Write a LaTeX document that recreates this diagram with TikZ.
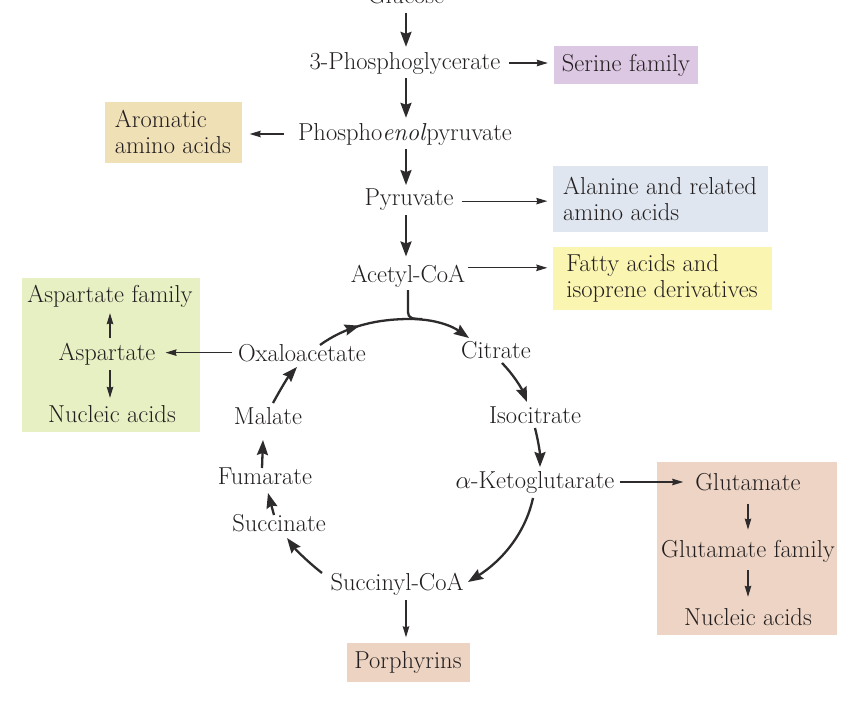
\documentclass[tikz,border=0pt]{standalone}
\usetikzlibrary{arrows.meta,decorations.markings,calc}
\definecolor{ink}{HTML}{231F20}
\definecolor{ink2}{HTML}{2E2B2C}
\definecolor{serc}{HTML}{DCC8E2}
\definecolor{aroc}{HTML}{EFE0B6}
\definecolor{alac}{HTML}{DFE6EF}
\definecolor{fatc}{HTML}{FBF5B2}
\definecolor{aspc}{HTML}{E7F0C3}
\definecolor{gluc}{HTML}{EDD4C4}
\definecolor{porc}{HTML}{EDD3C1}
\newcommand{\fs}{\fontsize{24.5}{26}\selectfont}
\tikzset{
  txt/.style={inner sep=1pt, font=\fs, text=ink, anchor=base},
  colbox/.style={inner sep=0pt, font=\fs, text=ink, align=left},
  thk/.style={line width=2.3pt, draw=ink2, -{Stealth[length=15pt,width=11pt,inset=2pt]}},
  thkplain/.style={line width=2.3pt, draw=ink2},
  thn/.style={line width=1.1pt, draw=ink2, -{Stealth[length=11pt,width=6.5pt,inset=1pt]}},
  midarrow/.style={postaction={decorate}, decoration={markings,
     mark=at position #1 with {\arrow{Stealth[length=15pt,width=11pt,inset=2pt]}}}}
}
\begin{document}
\begin{tikzpicture}[x=1pt,y=-1pt]
\useasboundingbox (0,0) rectangle (847,707);
\fill[white] (0,0) rectangle (847,707);

% coloured boxes
\node[colbox, fill=serc, minimum width=144pt, minimum height=38pt] (ser) at (626,65) {Serine family};
\node[colbox, fill=aroc, minimum width=137pt, minimum height=61pt] (aro) at (173,132) {Aromatic\\amino acids};
\node[colbox, fill=alac, minimum width=215pt, minimum height=66pt] (ala) at (660,199) {Alanine and related\\amino acids};
\node[colbox, fill=fatc, minimum width=219pt, minimum height=63pt] (fat) at (662,278) {Fatty acids and\\isoprene derivatives};
\node[colbox, fill=porc, minimum width=123pt, minimum height=39pt] (por) at (408,662) {Porphyrins};
\node[colbox, fill=aspc, minimum width=178pt, minimum height=154pt] (aspbox) at (111,355) {};
\node[colbox, fill=gluc, minimum width=180pt, minimum height=173pt] (glubox) at (747,548.5) {};

% text nodes
\node[txt] (glc) at (406,3) {Glucose};
\node[txt] (pg) at (405,69) {3-Phosphoglycerate};
\node[txt] (pep) at (405,140) {Phospho\textit{enol}pyruvate};
\node[txt] (pyr) at (409,205) {Pyruvate};
\node[txt] (acc) at (408,282) {Acetyl-CoA};
\node[txt] (oxa) at (302,361) {Oxaloacetate};
\node[txt] (cit) at (496,358) {Citrate};
\node[txt] (iso) at (535,423) {Isocitrate};
\node[txt] (akg) at (535,488) {$\alpha$-Ketoglutarate};
\node[txt] (suc) at (397,590) {Succinyl-CoA};
\node[txt] (sin) at (279,531) {Succinate};
\node[txt] (fum) at (265,484) {Fumarate};
\node[txt] (mal) at (268,424) {Malate};
\node[txt] (aspf) at (110,302) {Aspartate family};
\node[txt] (asp) at (107,360) {Aspartate};
\node[txt] (nuc1) at (112,422) {Nucleic acids};
\node[txt] (glu) at (748,490) {Glutamate};
\node[txt] (gluf) at (748,557) {Glutamate family};
\node[txt] (nuc2) at (748,625) {Nucleic acids};

% main chain
\draw[thk, shorten <=8pt, shorten >=4pt] (glc.south) -- (glc.south |- pg.north);
\draw[thk, shorten <=3pt, shorten >=4pt] (pg.south -| glc.south) -- (glc.south |- pep.north);
\draw[thk, shorten <=3pt, shorten >=2pt] (pep.south -| glc.south) -- (glc.south |- pyr.north);
\draw[thk, shorten <=4pt, shorten >=7pt] (pyr.south -| glc.south) -- (glc.south |- acc.north);

% side branches
\draw[thn, shorten <=8pt, shorten >=6pt] (pg.east) -- (pg.east -| ser.west);
\draw[thn, shorten <=13pt, shorten >=8pt] (pep.west) -- (pep.west -| aro.east);
\draw[thn, shorten <=7pt, shorten >=5pt] ($(pyr.east)+(0,2)$) -- ($(pyr.east -| ala.west)+(0,2)$);
\draw[thn, shorten <=2pt, shorten >=5pt] ($(acc.east)+(0,-8)$) -- ($(acc.east -| fat.west)+(0,-8)$);
\draw[thn, shorten <=5pt, shorten >=9pt] (oxa.west) -- (oxa.west -| asp.east);
\draw[thn, shorten <=4pt, shorten >=11pt] (akg.east) -- (akg.east -| glu.west);
\draw[thn, shorten <=4pt, shorten >=5pt] ($(suc.south)+(9,0)$) -- ($(suc.south |- por.north)+(9,0)$);
\draw[thn, shorten <=3pt, shorten >=5pt] ($(asp.north)+(3,0)$) -- ($(asp.north |- aspf.south)+(3,0)$);
\draw[thn, shorten <=4pt, shorten >=6pt] ($(asp.south)+(3,0)$) -- ($(asp.south |- nuc1.north)+(3,0)$);
\draw[thn, shorten <=12pt, shorten >=9pt] (glu.south) -- (glu.south |- gluf.north);
\draw[thn, shorten <=7pt, shorten >=10pt] (gluf.south) -- (gluf.south |- nuc2.north);

% citric acid cycle
\coordinate (top) at (410,319);
\draw[thk, midarrow=0.28] ($(oxa.base)+(18,-16)$) .. controls (345,327) and (375,319) .. (top)
   .. controls (435,319) and (452,326) .. ($(cit.base)+(-27,-20)$);
\draw[thkplain] ($(acc.base)+(0,8)$) -- ($(acc.base)+(0,30)$) .. controls ($(acc.base)+(0,36)$) and ($(acc.base)+(4,37)$) .. ($(acc.base)+(14,37)$);
\draw[thk] ($(cit.base)+(6,5)$) .. controls ($(cit.base)+(16,15)$) and ($(iso.base)+(-14,-36)$) .. ($(iso.base)+(-8,-21)$);
\draw[thk] ($(iso.base)+(0,5)$) .. controls ($(iso.base)+(3,17)$) and ($(akg.base)+(5,-36)$) .. ($(akg.base)+(5,-21)$);
\draw[thk] ($(akg.base)+(-2,10)$) .. controls ($(akg.base)+(-10,47)$) and ($(suc.base)+(103,-28)$) .. ($(suc.base)+(71,-8)$);
\draw[thk] ($(suc.base)+(-75,-17)$) .. controls ($(suc.base)+(-89,-28)$) and ($(sin.base)+(17,19)$) .. ($(sin.base)+(8,7)$);
\draw[thk] ($(sin.base)+(-5,-16)$) -- ($(fum.base)+(3,9)$);
\draw[thk] ($(fum.base)+(-3,-16)$) -- ($(mal.base)+(-5,16)$);
\draw[thk] ($(mal.base)+(5,-21)$) .. controls ($(mal.base)+(12,-34)$) and ($(oxa.base)+(-14,16)$) .. ($(oxa.base)+(-5,6)$);
\end{tikzpicture}
\end{document}
